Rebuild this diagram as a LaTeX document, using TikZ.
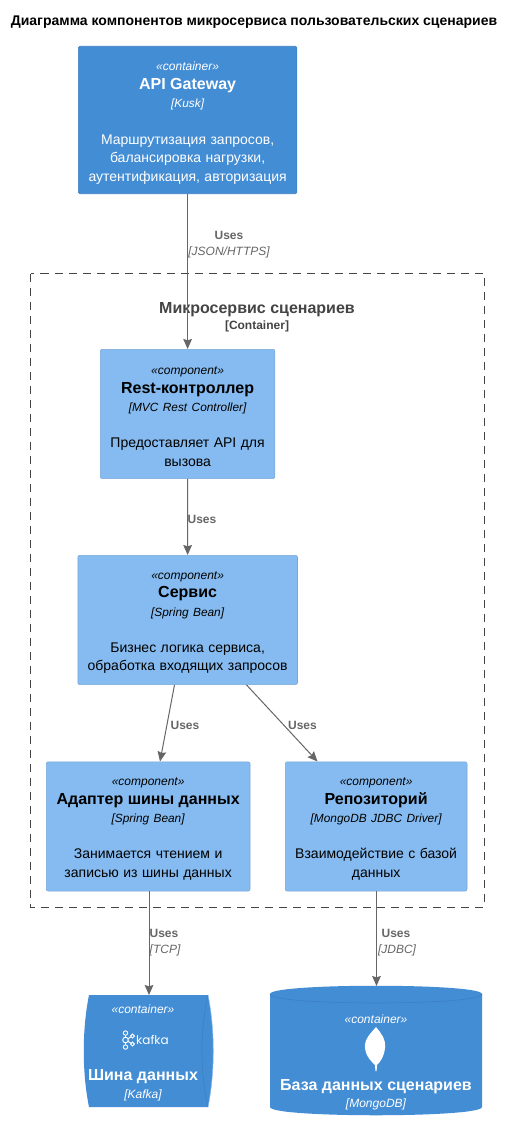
\documentclass[tikz,border=0pt]{standalone}
\usepackage{fontspec}
\setmainfont{Liberation Sans}
\newfontfamily\logofont{Poppins}
\usetikzlibrary{arrows.meta,calc}
\definecolor{contblue}{HTML}{438DD5}
\definecolor{compblue}{HTML}{85BBF0}
\definecolor{contedge}{HTML}{3C7FC0}
\definecolor{compedge}{HTML}{78A8D8}
\definecolor{relgray}{HTML}{666666}
\definecolor{bordgray}{HTML}{444444}
\newcommand{\ster}[1]{{\fontsize{9}{13.5}\selectfont\itshape «#1»\par}}
\newcommand{\ttl}[1]{{\fontsize{12}{14.2}\selectfont\bfseries #1\par}}
\newcommand{\tch}[1]{{\fontsize{8.9}{13.6}\selectfont\itshape [#1]\par}}
\newcommand{\dsc}[1]{{\fontsize{10.5}{14}\selectfont #1\par}}
\tikzset{
  x=0.75pt,y=-0.75pt,
  boxnode/.style={rounded corners=1.5pt,draw=#1,line width=0.4pt,inner sep=0pt,anchor=north west},
  contbox/.style={boxnode=contedge,fill=contblue},
  compbox/.style={boxnode=compedge,fill=compblue},
  conttext/.style={inner sep=0pt,align=center,text=white},
  comptext/.style={inner sep=0pt,align=center,text=black},
  rel/.style={draw=relgray,line width=0.75pt,-{Stealth[length=7.5pt,width=6.5pt,inset=1pt]}},
  rellabel/.style={text=relgray,align=center,inner sep=0pt},
  shapeblank/.style={inner sep=0pt,align=center,text=white},
}
\begin{document}
\begin{tikzpicture}
\useasboundingbox[fill=white] (0,0) rectangle (514,1131);
\node (title) at (254,22) {\fontsize{10.5}{12}\selectfont\bfseries Диаграмма компонентов микросервиса пользовательских сценариев};
% boundary
\draw[bordgray,line width=0.75pt,dash pattern=on 6pt off 4.5pt] (30.5,273.5) rectangle (484,907);
\node (bnd) at (257,309.5) {\fontsize{12}{14}\selectfont\bfseries\color{bordgray} Микросервис сценариев};
\node (bndt) at (257,326.5) {\fontsize{9}{11}\selectfont\bfseries\color{bordgray} [Container]};
% boxes
\node[contbox,minimum width=164pt,minimum height=110.6pt] (api) at (78,46) {};
\node[conttext,text width=163.6pt] (apitext) at ([yshift=-2.25pt]api.center)
  {\ster{container}\ttl{API Gateway}\tch{Kusk}\vspace{13.5pt}\dsc{Маршрутизация запросов,}\dsc{балансировка нагрузки,}\dsc{аутентификация, авторизация}};
\node[compbox,minimum width=131pt,minimum height=97pt] (rest) at (100,349) {};
\node[comptext,text width=130.6pt] (resttext) at ([yshift=-1.9pt]rest.center)
  {\ster{component}\ttl{Rest-контроллер}\tch{MVC Rest Controller}\vspace{13pt}\dsc{Предоставляет API для}\dsc{вызова}};
\node[compbox,minimum width=164.8pt,minimum height=97pt] (svc) at (77.5,555) {};
\node[comptext,text width=164.4pt] (svctext) at ([yshift=-1.9pt]svc.center)
  {\ster{component}\ttl{Сервис}\tch{Spring Bean}\vspace{13pt}\dsc{Бизнес логика сервиса,}\dsc{обработка входящих запросов}};
\node[compbox,minimum width=152.8pt,minimum height=97pt] (adp) at (46,761.5) {};
\node[comptext,text width=152.4pt] (adptext) at ([yshift=-1.9pt]adp.center)
  {\ster{component}\ttl{Адаптер шины данных}\tch{Spring Bean}\vspace{13pt}\dsc{Занимается чтением и}\dsc{записью из шины данных}};
\node[compbox,minimum width=136.3pt,minimum height=97pt] (repo) at (285,761.5) {};
\node[comptext,text width=135.9pt] (repotext) at ([yshift=-1.9pt]repo.center)
  {\ster{component}\ttl{Репозиторий}\tch{MongoDB JDBC Driver}\vspace{13pt}\dsc{Взаимодействие с базой}\dsc{данных}};
% kafka queue
\fill[contblue] (89,995) -- (208,995) .. controls (215,1030) and (215,1072) .. (208,1107) -- (89,1107) .. controls (82,1072) and (82,1030) .. (89,995) -- cycle;
\draw[contedge,line width=0.4pt] (208,995) .. controls (200,1030) and (200,1072) .. (208,1107);
\draw[compblue,line width=0.4pt] (208,995) .. controls (215,1030) and (215,1072) .. (208,1107);
\node[minimum width=96pt,minimum height=84pt,inner sep=0pt,anchor=north west] (kafka) at (84,995) {};
\node[shapeblank] (kster) at (143,1009) {\fontsize{9}{11}\selectfont\itshape «container»};
\begin{scope}[draw=white,line width=0.7pt]
\draw (125.5,1033) circle (2.2);
\draw (125.5,1040) circle (2.8);
\draw (125.5,1047) circle (2.2);
\draw (132.5,1036) circle (1.9);
\draw (132.5,1044) circle (1.9);
\draw (125.5,1035) -- (125.5,1037);
\draw (125.5,1043) -- (125.5,1045);
\draw (128,1038.6) -- (130.8,1037);
\draw (128,1041.4) -- (130.8,1043);
\end{scope}
\node[shapeblank] (klogo) at (152.5,1040) {\logofont\fontsize{9}{11}\selectfont kafka};
\node[shapeblank] (kname) at (143,1076.5) {\fontsize{12}{14}\selectfont\bfseries Шина данных};
\node[shapeblank] (ktech) at (143,1095) {\fontsize{9}{11}\selectfont\itshape [Kafka]};
% database
\fill[contblue] (270,994) .. controls (270,983) and (482,983) .. (482,994) -- (482,1107) .. controls (482,1118) and (270,1118) .. (270,1107) -- cycle;
\draw[contedge,line width=0.4pt] (270,994) .. controls (270,1006) and (482,1006) .. (482,994);
\node[minimum width=159pt,minimum height=97pt,inner sep=0pt,anchor=north west] (db) at (270,986) {};
\node[shapeblank] (dster) at (376,1019) {\fontsize{9}{11}\selectfont\itshape «container»};
\fill[white] (376,1027) .. controls (381,1033) and (386,1039) .. (385,1048) .. controls (384,1057) and (380,1062) .. (377,1065) -- (376.6,1071) -- (375.4,1071) -- (375,1065) .. controls (372,1062) and (366,1057) .. (365,1048) .. controls (364,1039) and (371,1033) .. (376,1027) -- cycle;
\node[shapeblank] (dname) at (376,1086.5) {\fontsize{12}{14}\selectfont\bfseries База данных сценариев};
\node[shapeblank] (dtech) at (376,1104) {\fontsize{9}{11}\selectfont\itshape [MongoDB]};
% connectors
\draw[rel] (api.south) -- (rest.north);
\draw[rel] (rest.south) -- (svc.north);
\draw[rel] ($(svc.south west)+(97,0)$) -- ($(adp.north west)+(114,0)$);
\draw[rel] ($(svc.south west)+(169,0)$) -- ($(repo.north west)+(32.5,0)$);
\draw[rel] ($(adp.south west)+(103,0)$) -- ($(kafka.north west)+(65,0)$);
\draw[rel] ($(repo.south west)+(91.5,0)$) -- ($(db.north west)+(106.5,0)$);
% connector labels
\node[rellabel] (l1) at (229,235) {\fontsize{9}{11}\selectfont\bfseries Uses};
\node[rellabel] (l1t) at (229,252) {\fontsize{9}{11}\selectfont\itshape [JSON/HTTPS]};
\node[rellabel] (l2) at (202,519) {\fontsize{9}{11}\selectfont\bfseries Uses};
\node[rellabel] (l3) at (185,725) {\fontsize{9}{11}\selectfont\bfseries Uses};
\node[rellabel] (l4) at (302.5,725) {\fontsize{9}{11}\selectfont\bfseries Uses};
\node[rellabel] (l5) at (164,933) {\fontsize{9}{11}\selectfont\bfseries Uses};
\node[rellabel] (l5t) at (165,950) {\fontsize{9}{11}\selectfont\itshape [TCP]};
\node[rellabel] (l6) at (396,933) {\fontsize{9}{11}\selectfont\bfseries Uses};
\node[rellabel] (l6t) at (397,950) {\fontsize{9}{11}\selectfont\itshape [JDBC]};
\end{tikzpicture}
\end{document}
